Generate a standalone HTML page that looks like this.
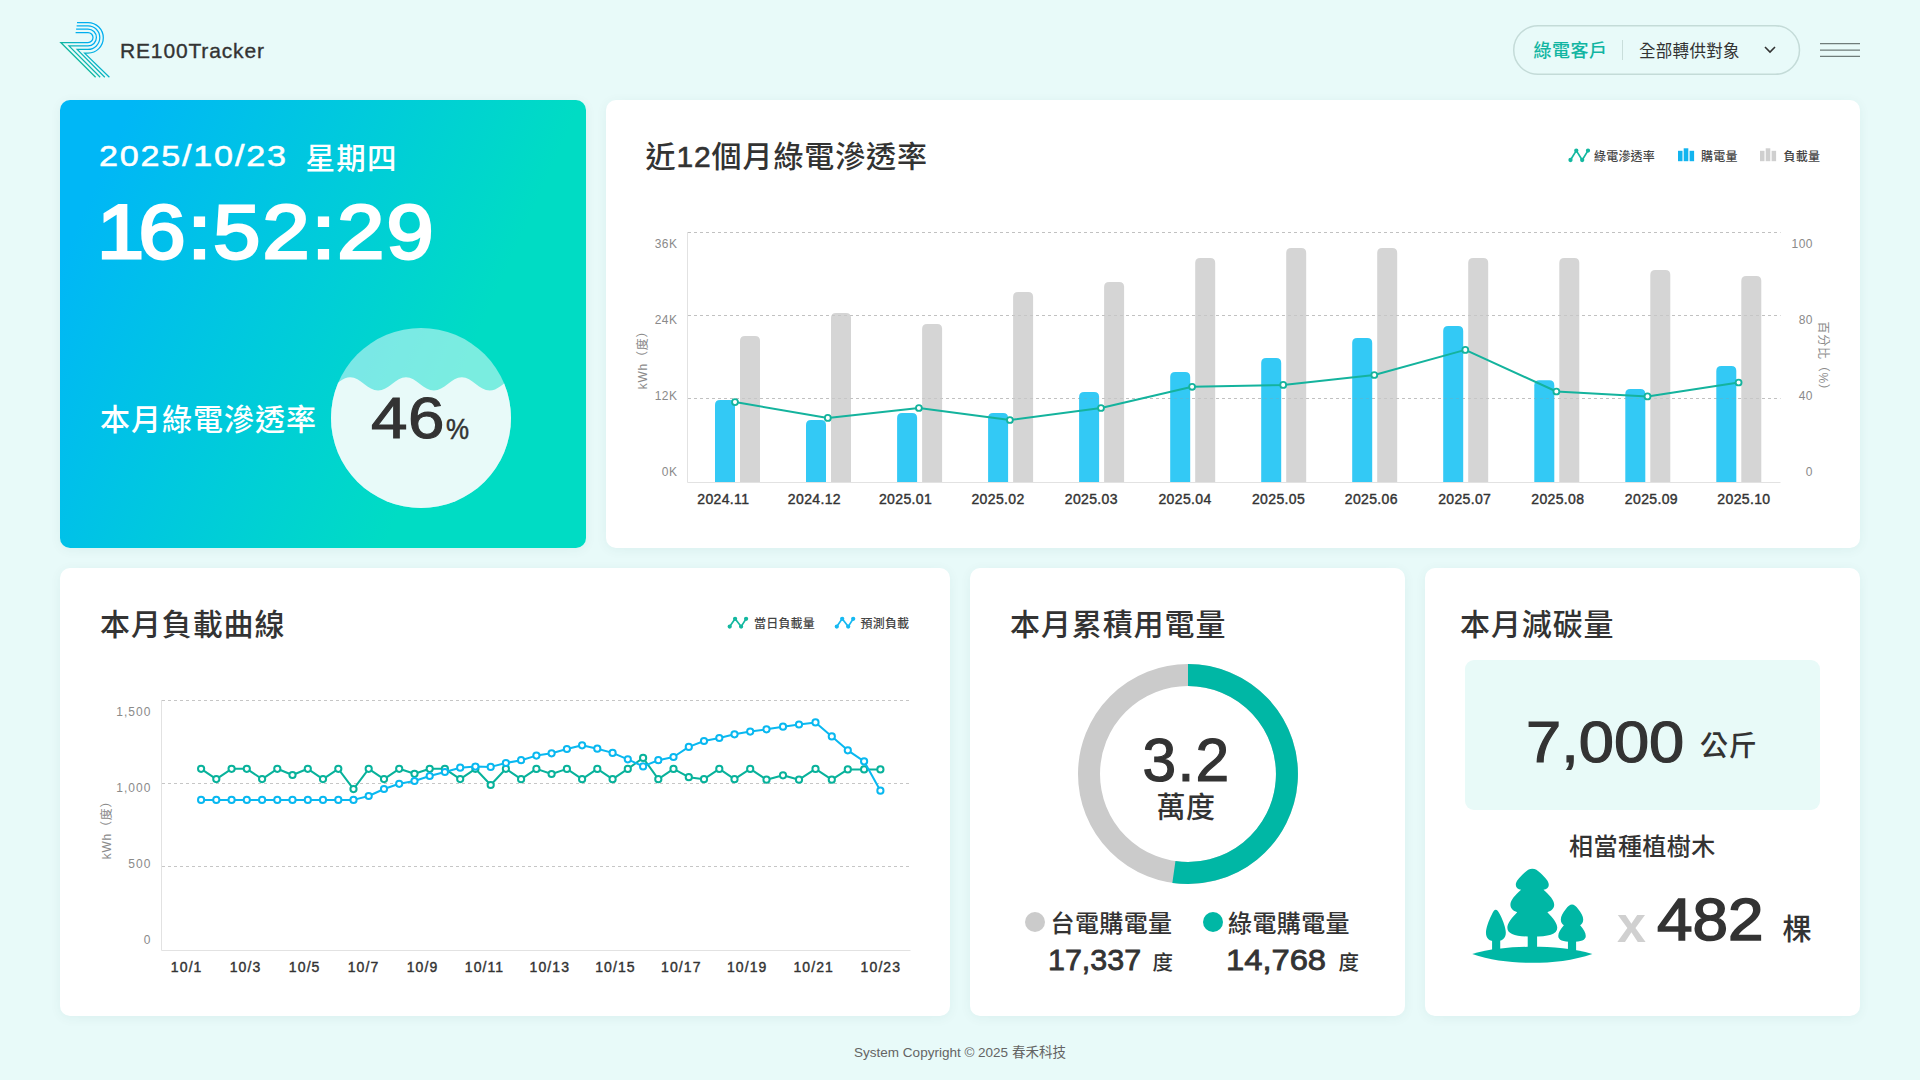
<!DOCTYPE html>
<html lang="zh-Hant">
<head>
<meta charset="utf-8">
<title>RE100Tracker</title>
<style>
*{box-sizing:border-box;margin:0;padding:0}
html,body{width:1920px;height:1080px;overflow:hidden}
body{background:#e8faf9;font-family:"Liberation Sans","Noto Sans CJK TC",sans-serif;color:#333;position:relative}
.abs{position:absolute;white-space:nowrap;line-height:1;transform-origin:left top}
.card{position:absolute;background:#fff;border-radius:10px;box-shadow:0 2px 12px rgba(0,90,80,.06)}
.title{position:absolute;top:138.5px;font-size:30px;line-height:36px;font-weight:500;letter-spacing:.9px;color:#333;white-space:nowrap}
.ytick{position:absolute;font-size:12px;line-height:14px;color:#8a8a8a;letter-spacing:.5px;white-space:nowrap}
.ytick.r{text-align:right;width:60px}
.ytick.w{letter-spacing:1.05px;margin-left:.5px}
.xtick{position:absolute;font-size:14px;line-height:16px;color:#333;-webkit-text-stroke:.4px #333;white-space:nowrap;width:80px;margin-left:-40px;text-align:center;letter-spacing:.35px}
.xtick.w{letter-spacing:1.1px}
.lg{position:absolute;font-size:12px;line-height:14px;color:#444;font-weight:500;white-space:nowrap;letter-spacing:.2px}
.axt{position:absolute;font-size:12px;line-height:14px;color:#8a8a8a;white-space:nowrap;letter-spacing:.75px;width:120px;height:14px;text-align:center}
svg{position:absolute;overflow:visible}
svg.full{left:0;top:0}
</style>
</head>
<body>

<!-- ===== header ===== -->
<svg id="logo" style="left:56px;top:18px" width="60" height="64" viewBox="56 18 60 64">
  <defs>
    <linearGradient id="lgr" gradientUnits="userSpaceOnUse" x1="60" y1="44" x2="75" y2="29">
      <stop offset="0" stop-color="#12b89a"/><stop offset="1" stop-color="#00aeef"/>
    </linearGradient>
  </defs>
  <g fill="none" stroke="url(#lgr)" stroke-width="1.25" stroke-linejoin="miter" stroke-miterlimit="10">
    <path d="M75.6 32.5 H88 A5 5 0 0 1 88 42.5 H60.8 L95.6 77.3"/>
    <path d="M76.1 29.1 H88 A8.4 8.4 0 0 1 88 45.9 H69 L100.2 77.3"/>
    <path d="M76.6 25.8 H88 A11.8 11.8 0 0 1 88 49.4 H77.2 L104.8 77.3"/>
    <path d="M77 22.5 H88 A15.3 15.3 0 0 1 88 53.1 H84.6 L109.4 77.3"/>
  </g>
</svg>
<div class="abs" id="brand" style="left:120px;top:39px;font-size:21px;line-height:24px;letter-spacing:.85px;color:#333;-webkit-text-stroke:.35px #333">RE100Tracker</div>

<svg class="full" width="1920" height="1080" viewBox="0 0 1920 1080"><rect x="1513.7" y="25.7" width="285.8" height="48.6" rx="24.3" fill="none" stroke="#c4dbd8" stroke-width="1.5"/><path d="M1820 43.6 H1860 M1820 50 H1860 M1820 56.4 H1860" stroke="#6f7c7a" stroke-width="1.25" fill="none"/></svg>
<div class="abs" id="pill1" style="left:1533.5px;top:40.7px;font-size:18px;line-height:20px;letter-spacing:.5px;color:#12b5a2;font-weight:500">綠電客戶</div>
<div style="position:absolute;left:1622px;top:40px;width:1px;height:20px;background:#c9dedb"></div>
<div class="abs" id="pill2" style="left:1639px;top:41.7px;font-size:16.5px;line-height:18px;color:#333;letter-spacing:.3px">全部轉供對象</div>
<svg style="left:1763px;top:45px" width="14" height="10" viewBox="0 0 14 10"><path d="M2 2 L7 7 L12 2" fill="none" stroke="#333" stroke-width="1.6"/></svg>

<!-- ===== card backgrounds ===== -->
<div id="c1" class="card" style="left:60px;top:100px;width:526px;height:448px;background:linear-gradient(114deg,#00b7f6 0%,#00b7f6 10%,#00dcc4 72%,#00dcc4 100%)"></div>
<div id="c2" class="card" style="left:606px;top:100px;width:1254px;height:448px"></div>
<div id="c3" class="card" style="left:60px;top:568px;width:890px;height:448px"></div>
<div id="c4" class="card" style="left:970px;top:568px;width:435px;height:448px"></div>
<div id="c5" class="card" style="left:1425px;top:568px;width:435px;height:448px"></div>

<div class="title" style="left:645.5px">近<span style="-webkit-text-stroke:.6px #333">12</span>個月綠電滲透率</div>
<div class="title" style="left:100px;top:606.5px">本月負載曲線</div>
<div class="title" style="left:1010px;top:606.5px">本月累積用電量</div>
<div class="title" style="left:1460px;top:606.5px">本月減碳量</div>

<!-- ===== card 1 content ===== -->
<div class="abs" id="date" style="left:99px;top:142px;font-size:28.7px;color:#fff;-webkit-text-stroke:.5px #fff;letter-spacing:1.5px;transform:scaleX(1.19)">2025/10/23</div>
<div class="abs" id="dow" style="left:305.5px;top:140.5px;font-size:29.5px;line-height:36px;color:#fff;font-weight:500;letter-spacing:1.2px">星期四</div>
<div class="abs" id="time" style="left:96.7px;top:193.5px;font-size:76.5px;color:#fff;-webkit-text-stroke:2.8px #fff;letter-spacing:1.95px;transform:scaleX(1.105)"><span style="margin-right:-6.9px">1</span>6:52:29</div>
<div class="abs" id="pen" style="left:100px;top:401.5px;font-size:30px;line-height:36px;color:#fff;font-weight:500;letter-spacing:1px">本月綠電滲透率</div>
<svg class="full" width="1920" height="1080" viewBox="0 0 1920 1080">
  <defs><clipPath id="cc"><circle cx="421" cy="418" r="90"/></clipPath></defs>
  <g clip-path="url(#cc)">
    <rect x="331" y="328" width="180" height="180" fill="#ffffff" fill-opacity=".48"/>
    <path fill="#e8faf9" d="M294.4 377.2 C304.6 377.2 312.1 390.6 322.3 390.6 C332.5 390.6 340.0 377.2 350.2 377.2 C360.4 377.2 367.9 390.6 378.1 390.6 C388.3 390.6 395.8 377.2 406.0 377.2 C416.2 377.2 423.7 390.6 433.9 390.6 C444.1 390.6 451.6 377.2 461.8 377.2 C472.0 377.2 479.5 390.6 489.7 390.6 C499.9 390.6 507.4 377.2 517.6 377.2 C527.8 377.2 535.3 390.6 545.5 390.6 V520 H290 Z"/>
  </g>
</svg>
<div class="abs" id="p46" style="left:370.8px;top:389px;font-size:58px;color:#333;letter-spacing:.5px;transform:scaleX(1.13);-webkit-text-stroke:1.1px #333">46</div>
<div class="abs" id="pct" style="left:446px;top:414px;font-size:29.5px;color:#333;-webkit-text-stroke:.5px #333;transform:scaleX(.88)">%</div>

<!-- ===== card 2 content ===== -->
<svg class="full" width="1920" height="1080" viewBox="0 0 1920 1080">
<g stroke="#cecece" stroke-width="1" stroke-dasharray="3 3" fill="none">
<path d="M688 232.5 H1780.5"/>
<path d="M688 315.5 H1780.5"/>
<path d="M688 398.5 H1780.5"/>
</g>
<path d="M687.5 232 V482.5 H1780.5" fill="none" stroke="#e2e2e2" stroke-width="1"/>
<path fill="#33c9f5" d="M715.0 482.0 V405 Q715.0 400 720.0 400 H730.0 Q735.0 400 735.0 405 V482.0 Z"/>
<path fill="#d5d5d5" d="M740.0 482.0 V341 Q740.0 336 745.0 336 H755.0 Q760.0 336 760.0 341 V482.0 Z"/>
<path fill="#33c9f5" d="M806.0 482.0 V425 Q806.0 420 811.0 420 H821.0 Q826.0 420 826.0 425 V482.0 Z"/>
<path fill="#d5d5d5" d="M831.0 482.0 V318 Q831.0 313 836.0 313 H846.0 Q851.0 313 851.0 318 V482.0 Z"/>
<path fill="#33c9f5" d="M897.1 482.0 V418 Q897.1 413 902.1 413 H912.1 Q917.1 413 917.1 418 V482.0 Z"/>
<path fill="#d5d5d5" d="M922.1 482.0 V329 Q922.1 324 927.1 324 H937.1 Q942.1 324 942.1 329 V482.0 Z"/>
<path fill="#33c9f5" d="M988.1 482.0 V418 Q988.1 413 993.1 413 H1003.1 Q1008.1 413 1008.1 418 V482.0 Z"/>
<path fill="#d5d5d5" d="M1013.1 482.0 V297 Q1013.1 292 1018.1 292 H1028.1 Q1033.1 292 1033.1 297 V482.0 Z"/>
<path fill="#33c9f5" d="M1079.1 482.0 V397 Q1079.1 392 1084.1 392 H1094.1 Q1099.1 392 1099.1 397 V482.0 Z"/>
<path fill="#d5d5d5" d="M1104.1 482.0 V287 Q1104.1 282 1109.1 282 H1119.1 Q1124.1 282 1124.1 287 V482.0 Z"/>
<path fill="#33c9f5" d="M1170.2 482.0 V377 Q1170.2 372 1175.2 372 H1185.2 Q1190.2 372 1190.2 377 V482.0 Z"/>
<path fill="#d5d5d5" d="M1195.2 482.0 V263 Q1195.2 258 1200.2 258 H1210.2 Q1215.2 258 1215.2 263 V482.0 Z"/>
<path fill="#33c9f5" d="M1261.2 482.0 V363 Q1261.2 358 1266.2 358 H1276.2 Q1281.2 358 1281.2 363 V482.0 Z"/>
<path fill="#d5d5d5" d="M1286.2 482.0 V253 Q1286.2 248 1291.2 248 H1301.2 Q1306.2 248 1306.2 253 V482.0 Z"/>
<path fill="#33c9f5" d="M1352.2 482.0 V343 Q1352.2 338 1357.2 338 H1367.2 Q1372.2 338 1372.2 343 V482.0 Z"/>
<path fill="#d5d5d5" d="M1377.2 482.0 V253 Q1377.2 248 1382.2 248 H1392.2 Q1397.2 248 1397.2 253 V482.0 Z"/>
<path fill="#33c9f5" d="M1443.2 482.0 V331 Q1443.2 326 1448.2 326 H1458.2 Q1463.2 326 1463.2 331 V482.0 Z"/>
<path fill="#d5d5d5" d="M1468.2 482.0 V263 Q1468.2 258 1473.2 258 H1483.2 Q1488.2 258 1488.2 263 V482.0 Z"/>
<path fill="#33c9f5" d="M1534.3 482.0 V385.3 Q1534.3 380.3 1539.3 380.3 H1549.3 Q1554.3 380.3 1554.3 385.3 V482.0 Z"/>
<path fill="#d5d5d5" d="M1559.3 482.0 V263 Q1559.3 258 1564.3 258 H1574.3 Q1579.3 258 1579.3 263 V482.0 Z"/>
<path fill="#33c9f5" d="M1625.3 482.0 V394 Q1625.3 389 1630.3 389 H1640.3 Q1645.3 389 1645.3 394 V482.0 Z"/>
<path fill="#d5d5d5" d="M1650.3 482.0 V275 Q1650.3 270 1655.3 270 H1665.3 Q1670.3 270 1670.3 275 V482.0 Z"/>
<path fill="#33c9f5" d="M1716.3 482.0 V371 Q1716.3 366 1721.3 366 H1731.3 Q1736.3 366 1736.3 371 V482.0 Z"/>
<path fill="#d5d5d5" d="M1741.3 482.0 V281 Q1741.3 276 1746.3 276 H1756.3 Q1761.3 276 1761.3 281 V482.0 Z"/>
<g stroke="#9a9a9a" stroke-opacity=".25" stroke-width="1" stroke-dasharray="3 3" fill="none"><path d="M688 315.5 H1780.5"/><path d="M688 398.5 H1780.5"/><path d="M688 232.5 H1780.5"/></g>
<polyline fill="none" stroke="#14b39d" stroke-width="2" stroke-linejoin="round" points="735.0,402.1 827.8,417.9 918.9,408 1009.9,420 1101.0,408 1192.1,386.8 1283.2,384.9 1374.3,375 1465.3,349.9 1556.4,391.5 1647.5,396.4 1738.6,382.5"/>
<g fill="#fff" stroke="#14b39d" stroke-width="1.85">
<circle cx="735.0" cy="402.1" r="2.95"/>
<circle cx="827.8" cy="417.9" r="2.95"/>
<circle cx="918.9" cy="408" r="2.95"/>
<circle cx="1009.9" cy="420" r="2.95"/>
<circle cx="1101.0" cy="408" r="2.95"/>
<circle cx="1192.1" cy="386.8" r="2.95"/>
<circle cx="1283.2" cy="384.9" r="2.95"/>
<circle cx="1374.3" cy="375" r="2.95"/>
<circle cx="1465.3" cy="349.9" r="2.95"/>
<circle cx="1556.4" cy="391.5" r="2.95"/>
<circle cx="1647.5" cy="396.4" r="2.95"/>
<circle cx="1738.6" cy="382.5" r="2.95"/>
</g>
<g stroke="#14b8a0" stroke-width="1.7" fill="#14b8a0" stroke-linejoin="round"><polyline fill="none" points="1570.5,160 1576.3,150.6 1582.2,160 1588,150.6"/><circle cx="1570.5" cy="160" r="1.3"/><circle cx="1576.3" cy="150.6" r="1.3"/><circle cx="1582.2" cy="160" r="1.3"/><circle cx="1588" cy="150.6" r="1.3"/></g>
<g fill="#12b4ef"><rect x="1678" y="150.8" width="4.5" height="10.4"/><rect x="1683.7" y="148.3" width="4.6" height="12.9"/><rect x="1689.6" y="150.8" width="4.5" height="10.4"/></g>
<g fill="#cfcfcf"><rect x="1760" y="150.8" width="4.5" height="10.4"/><rect x="1765.7" y="148.3" width="4.6" height="12.9"/><rect x="1771.6" y="150.8" width="4.5" height="10.4"/></g>
</svg>
<div class="lg" style="left:1594px;top:149.8px">綠電滲透率</div>
<div class="lg" style="left:1701px;top:149.8px">購電量</div>
<div class="lg" style="left:1783.5px;top:149.8px">負載量</div>
<div class="ytick r" style="left:617.5px;top:237px">36K</div>
<div class="ytick r" style="left:617.5px;top:313px">24K</div>
<div class="ytick r" style="left:617.5px;top:389px">12K</div>
<div class="ytick r" style="left:617.5px;top:465px">0K</div>
<div class="ytick r" style="left:1753px;top:237px">100</div>
<div class="ytick r" style="left:1753px;top:313px">80</div>
<div class="ytick r" style="left:1753px;top:389px">40</div>
<div class="ytick r" style="left:1753px;top:465px">0</div>
<div class="axt" style="left:583px;top:350px;transform:rotate(-90deg)">kWh（度）</div>
<div class="axt" style="left:1763px;top:352px;transform:rotate(90deg)">百分比（%）</div>
<div class="xtick" style="left:723.3px;top:490.5px">2024.11</div>
<div class="xtick" style="left:814.4px;top:490.5px">2024.12</div>
<div class="xtick" style="left:905.5px;top:490.5px">2025.01</div>
<div class="xtick" style="left:998px;top:490.5px">2025.02</div>
<div class="xtick" style="left:1091.3px;top:490.5px">2025.03</div>
<div class="xtick" style="left:1185px;top:490.5px">2025.04</div>
<div class="xtick" style="left:1278.5px;top:490.5px">2025.05</div>
<div class="xtick" style="left:1371.3px;top:490.5px">2025.06</div>
<div class="xtick" style="left:1464.7px;top:490.5px">2025.07</div>
<div class="xtick" style="left:1557.8px;top:490.5px">2025.08</div>
<div class="xtick" style="left:1651.4px;top:490.5px">2025.09</div>
<div class="xtick" style="left:1743.9px;top:490.5px">2025.10</div>

<!-- ===== card 3 content ===== -->
<svg class="full" width="1920" height="1080" viewBox="0 0 1920 1080">
<g stroke="#c6c6c6" stroke-width="1" stroke-dasharray="3 3" fill="none">
<path d="M162 700.5 H910.5"/>
<path d="M162 783.5 H910.5"/>
<path d="M162 866.5 H910.5"/>
</g>
<path d="M161.5 700 V950.5 H910.5" fill="none" stroke="#e2e2e2" stroke-width="1"/>
<polyline fill="none" stroke="#08b29b" stroke-width="2" stroke-linejoin="round" points="201.1,768.8 216.3,779.1 231.6,768.8 246.8,768.8 262.1,779.1 277.3,768.8 292.5,775 307.8,768.8 323.0,779.1 338.3,768.8 353.5,789.1 368.7,768.8 384.0,779.1 399.2,768.8 414.5,773.8 429.7,768.8 444.9,768.8 460.2,779.1 475.4,768.8 490.7,785 505.9,768.8 521.1,779.2 536.4,768.9 551.6,774 566.9,768.9 582.1,779.2 597.3,768.9 612.6,779.2 627.8,768.9 643.1,757.9 658.3,779.2 673.5,768.9 688.8,777.2 704.0,779.2 719.3,768.9 734.5,779.2 750.2,768.9 766.5,779.7 783.0,775.3 799.0,779.7 815.5,768.9 831.8,779.7 847.8,769.4 864.1,769.4 880.4,769.4"/>
<g fill="#fff" stroke="#08b29b" stroke-width="2">
<circle cx="201.1" cy="768.8" r="3.1"/>
<circle cx="216.3" cy="779.1" r="3.1"/>
<circle cx="231.6" cy="768.8" r="3.1"/>
<circle cx="246.8" cy="768.8" r="3.1"/>
<circle cx="262.1" cy="779.1" r="3.1"/>
<circle cx="277.3" cy="768.8" r="3.1"/>
<circle cx="292.5" cy="775" r="3.1"/>
<circle cx="307.8" cy="768.8" r="3.1"/>
<circle cx="323.0" cy="779.1" r="3.1"/>
<circle cx="338.3" cy="768.8" r="3.1"/>
<circle cx="353.5" cy="789.1" r="3.1"/>
<circle cx="368.7" cy="768.8" r="3.1"/>
<circle cx="384.0" cy="779.1" r="3.1"/>
<circle cx="399.2" cy="768.8" r="3.1"/>
<circle cx="414.5" cy="773.8" r="3.1"/>
<circle cx="429.7" cy="768.8" r="3.1"/>
<circle cx="444.9" cy="768.8" r="3.1"/>
<circle cx="460.2" cy="779.1" r="3.1"/>
<circle cx="475.4" cy="768.8" r="3.1"/>
<circle cx="490.7" cy="785" r="3.1"/>
<circle cx="505.9" cy="768.8" r="3.1"/>
<circle cx="521.1" cy="779.2" r="3.1"/>
<circle cx="536.4" cy="768.9" r="3.1"/>
<circle cx="551.6" cy="774" r="3.1"/>
<circle cx="566.9" cy="768.9" r="3.1"/>
<circle cx="582.1" cy="779.2" r="3.1"/>
<circle cx="597.3" cy="768.9" r="3.1"/>
<circle cx="612.6" cy="779.2" r="3.1"/>
<circle cx="627.8" cy="768.9" r="3.1"/>
<circle cx="643.1" cy="757.9" r="3.1"/>
<circle cx="658.3" cy="779.2" r="3.1"/>
<circle cx="673.5" cy="768.9" r="3.1"/>
<circle cx="688.8" cy="777.2" r="3.1"/>
<circle cx="704.0" cy="779.2" r="3.1"/>
<circle cx="719.3" cy="768.9" r="3.1"/>
<circle cx="734.5" cy="779.2" r="3.1"/>
<circle cx="750.2" cy="768.9" r="3.1"/>
<circle cx="766.5" cy="779.7" r="3.1"/>
<circle cx="783.0" cy="775.3" r="3.1"/>
<circle cx="799.0" cy="779.7" r="3.1"/>
<circle cx="815.5" cy="768.9" r="3.1"/>
<circle cx="831.8" cy="779.7" r="3.1"/>
<circle cx="847.8" cy="769.4" r="3.1"/>
<circle cx="864.1" cy="769.4" r="3.1"/>
<circle cx="880.4" cy="769.4" r="3.1"/>
</g>
<polyline fill="none" stroke="#09b8f0" stroke-width="2" stroke-linejoin="round" points="201.1,799.9 216.3,799.9 231.6,799.9 246.8,799.9 262.1,799.9 277.3,799.9 292.5,799.9 307.8,799.9 323.0,799.9 338.3,799.9 353.5,799.9 368.7,796 384.0,789 399.2,783.8 414.5,781 429.7,776 444.9,772 460.2,767.7 475.4,766.6 490.7,766.9 505.9,763 521.1,760.2 536.4,755.6 551.6,753.3 566.9,749 582.1,745.3 597.3,748.7 612.6,752.9 627.8,759.3 643.1,766.4 658.3,760.2 673.5,757 688.8,746.9 704.0,741 719.3,738 734.5,734.3 750.2,731.6 766.5,729.3 783.0,726.7 799.0,724.5 815.5,722.4 831.8,736.4 847.8,750.3 864.1,761.3 880.4,790.7"/>
<g fill="#fff" stroke="#09b8f0" stroke-width="2">
<circle cx="201.1" cy="799.9" r="3.1"/>
<circle cx="216.3" cy="799.9" r="3.1"/>
<circle cx="231.6" cy="799.9" r="3.1"/>
<circle cx="246.8" cy="799.9" r="3.1"/>
<circle cx="262.1" cy="799.9" r="3.1"/>
<circle cx="277.3" cy="799.9" r="3.1"/>
<circle cx="292.5" cy="799.9" r="3.1"/>
<circle cx="307.8" cy="799.9" r="3.1"/>
<circle cx="323.0" cy="799.9" r="3.1"/>
<circle cx="338.3" cy="799.9" r="3.1"/>
<circle cx="353.5" cy="799.9" r="3.1"/>
<circle cx="368.7" cy="796" r="3.1"/>
<circle cx="384.0" cy="789" r="3.1"/>
<circle cx="399.2" cy="783.8" r="3.1"/>
<circle cx="414.5" cy="781" r="3.1"/>
<circle cx="429.7" cy="776" r="3.1"/>
<circle cx="444.9" cy="772" r="3.1"/>
<circle cx="460.2" cy="767.7" r="3.1"/>
<circle cx="475.4" cy="766.6" r="3.1"/>
<circle cx="490.7" cy="766.9" r="3.1"/>
<circle cx="505.9" cy="763" r="3.1"/>
<circle cx="521.1" cy="760.2" r="3.1"/>
<circle cx="536.4" cy="755.6" r="3.1"/>
<circle cx="551.6" cy="753.3" r="3.1"/>
<circle cx="566.9" cy="749" r="3.1"/>
<circle cx="582.1" cy="745.3" r="3.1"/>
<circle cx="597.3" cy="748.7" r="3.1"/>
<circle cx="612.6" cy="752.9" r="3.1"/>
<circle cx="627.8" cy="759.3" r="3.1"/>
<circle cx="643.1" cy="766.4" r="3.1"/>
<circle cx="658.3" cy="760.2" r="3.1"/>
<circle cx="673.5" cy="757" r="3.1"/>
<circle cx="688.8" cy="746.9" r="3.1"/>
<circle cx="704.0" cy="741" r="3.1"/>
<circle cx="719.3" cy="738" r="3.1"/>
<circle cx="734.5" cy="734.3" r="3.1"/>
<circle cx="750.2" cy="731.6" r="3.1"/>
<circle cx="766.5" cy="729.3" r="3.1"/>
<circle cx="783.0" cy="726.7" r="3.1"/>
<circle cx="799.0" cy="724.5" r="3.1"/>
<circle cx="815.5" cy="722.4" r="3.1"/>
<circle cx="831.8" cy="736.4" r="3.1"/>
<circle cx="847.8" cy="750.3" r="3.1"/>
<circle cx="864.1" cy="761.3" r="3.1"/>
<circle cx="880.4" cy="790.7" r="3.1"/>
</g>
<g stroke="#14b8a0" stroke-width="1.7" fill="#14b8a0" stroke-linejoin="round"><polyline fill="none" points="729.7,626.6 735.1,618.8 741.1,626.6 746.1,618.8"/><circle cx="729.7" cy="626.6" r="1.3"/><circle cx="735.1" cy="618.8" r="1.3"/><circle cx="741.1" cy="626.6" r="1.3"/><circle cx="746.1" cy="618.8" r="1.3"/></g>
<g stroke="#16b9f2" stroke-width="1.7" fill="#16b9f2" stroke-linejoin="round"><polyline fill="none" points="836.8,626.6 842.2,618.8 848.2,626.6 853.2,618.8"/><circle cx="836.8" cy="626.6" r="1.3"/><circle cx="842.2" cy="618.8" r="1.3"/><circle cx="848.2" cy="626.6" r="1.3"/><circle cx="853.2" cy="618.8" r="1.3"/></g>
</svg>
<div class="lg" style="left:754px;top:617px">當日負載量</div>
<div class="lg" style="left:860.5px;top:617px">預測負載</div>
<div class="ytick r w" style="left:91px;top:705px">1,500</div>
<div class="ytick r w" style="left:91px;top:780.5px">1,000</div>
<div class="ytick r w" style="left:91px;top:857px">500</div>
<div class="ytick r w" style="left:91px;top:933px">0</div>
<div class="axt" style="left:47px;top:819.5px;transform:rotate(-90deg)">kWh（度）</div>
<div class="xtick w" style="left:186.7px;top:958.5px">10/1</div>
<div class="xtick w" style="left:245.5px;top:958.5px">10/3</div>
<div class="xtick w" style="left:304.7px;top:958.5px">10/5</div>
<div class="xtick w" style="left:363.5px;top:958.5px">10/7</div>
<div class="xtick w" style="left:422.5px;top:958.5px">10/9</div>
<div class="xtick w" style="left:484.5px;top:958.5px">10/11</div>
<div class="xtick w" style="left:549.8px;top:958.5px">10/13</div>
<div class="xtick w" style="left:615.5px;top:958.5px">10/15</div>
<div class="xtick w" style="left:681.3px;top:958.5px">10/17</div>
<div class="xtick w" style="left:747.2px;top:958.5px">10/19</div>
<div class="xtick w" style="left:813.7px;top:958.5px">10/21</div>
<div class="xtick w" style="left:880.9px;top:958.5px">10/23</div>

<!-- ===== card 4 content : donut ===== -->
<svg class="full" width="1920" height="1080" viewBox="0 0 1920 1080">
  <circle cx="1188" cy="774" r="99" fill="none" stroke="#cbcbcb" stroke-width="22"/>
  <path d="M1188 675 A99 99 0 1 1 1173.9 872" fill="none" stroke="#00b7a5" stroke-width="22"/>
  <circle cx="1035" cy="922" r="10" fill="#cbcbcb"/>
  <circle cx="1213" cy="922" r="10" fill="#00b7a5"/>
</svg>
<div class="abs" id="d32" style="left:1142.5px;top:730.2px;font-size:60.5px;color:#333;-webkit-text-stroke:1.2px #333;letter-spacing:1.3px">3.2</div>
<div class="abs" id="dwd" style="left:1156.5px;top:789.5px;letter-spacing:.6px;font-size:29px;line-height:36px;color:#333;font-weight:500">萬度</div>
<div class="abs" id="l1" style="left:1050.5px;top:907px;font-size:24px;line-height:34px;letter-spacing:.4px;color:#333;font-weight:500">台電購電量</div>
<div class="abs" id="l2" style="left:1228px;top:907px;font-size:24px;line-height:34px;letter-spacing:.4px;color:#333;font-weight:500">綠電購電量</div>
<div class="abs" id="n1" style="left:1047.5px;top:945.5px;font-size:29px;color:#333;-webkit-text-stroke:.8px #333;transform:scaleX(1.05)">17,337</div>
<div class="abs" id="u1" style="left:1152.5px;top:948.7px;font-size:20.5px;line-height:28px;color:#333;font-weight:500">度</div>
<div class="abs" id="n2" style="left:1226px;top:945.5px;font-size:29px;color:#333;-webkit-text-stroke:.8px #333;transform:scaleX(1.128)">14,768</div>
<div class="abs" id="u2" style="left:1338.5px;top:948.7px;font-size:20.5px;line-height:28px;color:#333;font-weight:500">度</div>

<!-- ===== card 5 content : carbon ===== -->
<div style="position:absolute;left:1465px;top:660px;width:355px;height:150px;background:#e8faf8;border-radius:9px"></div>
<div class="abs" id="k7" style="left:1526.3px;top:713.5px;font-size:57.5px;color:#333;-webkit-text-stroke:1.2px #333;transform:scaleX(1.1)">7,000</div>
<div class="abs" id="kg" style="left:1700px;top:727px;letter-spacing:.8px;font-size:28px;line-height:40px;color:#333;font-weight:500">公斤</div>
<div class="abs" id="eq" style="left:1569px;top:829.7px;font-size:24px;line-height:34px;color:#333;font-weight:500;letter-spacing:.45px">相當種植樹木</div>
<svg id="tree" style="left:1460px;top:860px" width="150" height="110" viewBox="0 0 1473 1080">
  <g fill="#00b7a5">
    <path d="M120 922 C300 870 520 852 710 852 C900 852 1120 870 1300 922 C1120 985 900 1010 710 1010 C520 1010 300 985 120 922 Z"/>
    <rect x="665" y="700" width="92" height="200"/>
    <rect x="315" y="740" width="80" height="160"/>
    <rect x="1060" y="760" width="80" height="140"/>
    <path d="M710 86 C740 86 760 100 790 128 C840 175 872 210 872 245 C872 270 850 288 820 292 C880 345 925 395 925 440 C925 475 900 500 858 512 C915 570 955 620 955 665 C955 730 870 752 710 752 C550 752 465 730 465 665 C465 620 505 570 562 512 C520 500 495 475 495 440 C495 395 540 345 600 292 C570 288 548 270 548 245 C548 210 580 175 630 128 C660 100 680 86 710 86 Z"/>
    <path d="M350 488 C365 488 378 505 395 540 C425 600 450 670 450 715 C450 770 410 800 350 800 C290 800 255 770 255 715 C255 670 280 600 310 540 C325 505 338 488 350 488 Z"/>
    <path d="M1100 438 C1120 438 1140 455 1160 480 C1190 518 1210 550 1210 585 C1210 612 1198 630 1180 640 C1215 680 1235 715 1235 745 C1235 785 1190 802 1100 802 C1010 802 965 785 965 745 C965 715 985 680 1020 640 C1002 630 990 612 990 585 C990 550 1010 518 1040 480 C1060 455 1080 438 1100 438 Z"/>
  </g>
</svg>
<div class="abs" id="xx" style="left:1617px;top:897.5px;font-size:52px;color:#d0d0d0;font-weight:700">x</div>
<div class="abs" id="n482" style="left:1657px;top:891.3px;font-size:59px;color:#333;-webkit-text-stroke:1.5px #333;transform:scaleX(1.083)">482</div>
<div class="abs" id="ke" style="left:1782.5px;top:909.6px;font-size:29px;line-height:40px;color:#333;font-weight:500">棵</div>

<div class="abs" id="footer" style="left:0;width:1920px;top:1045px;text-align:center;font-size:13.5px;line-height:16px;color:#646464">System Copyright © 2025 春禾科技</div>

</body>
</html>
